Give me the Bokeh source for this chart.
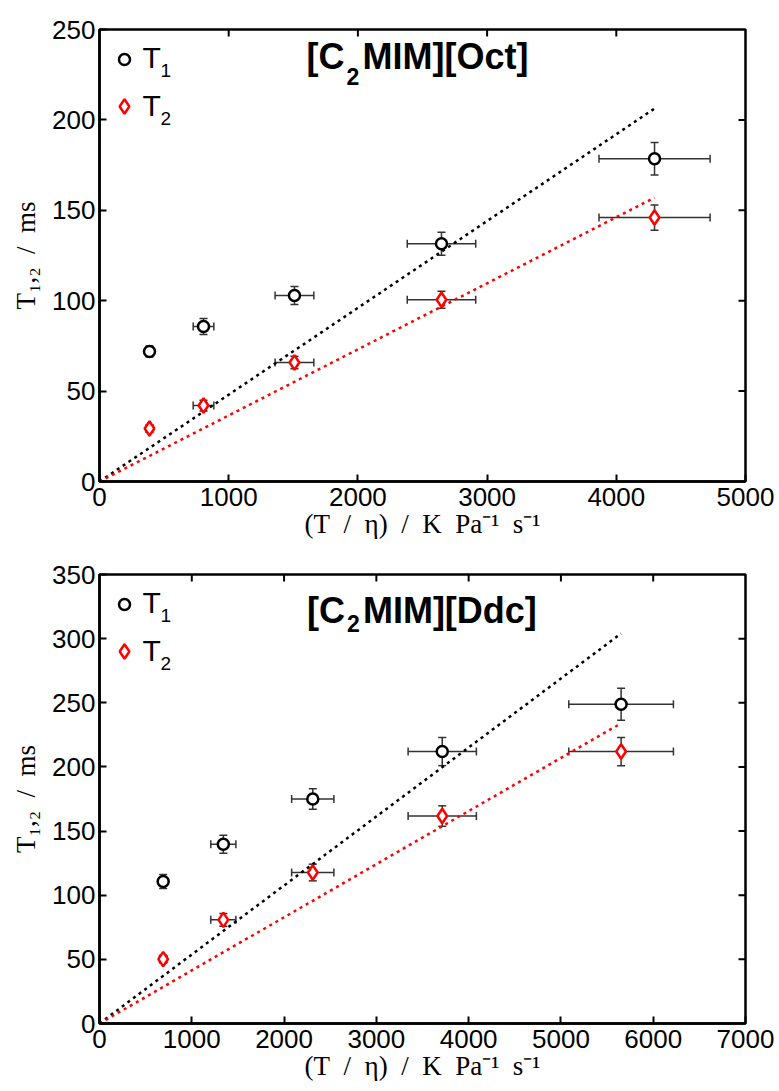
from bokeh.plotting import figure
from bokeh.models import (Range1d, Whisker, TeeHead, ColumnDataSource,
                          Label, SingleIntervalTicker)
from bokeh.layouts import column
from bokeh.embed import file_html
from bokeh.resources import INLINE

# ---------------- data: panel c) [C2MIM][Oct] ----------------
oct_x = [387, 805, 1509, 2647, 4296]
oct_x_err = [25, 80, 150, 265, 430]
oct_t1 = [71.9, 85.7, 102.9, 131.5, 178.5]
oct_t1_err = [3, 4.4, 5, 6.4, 9]
oct_t2 = [29.3, 42.0, 65.8, 100.5, 146.0]
oct_t2_err = [2, 3, 3.5, 4.7, 7]
oct_fit_x = [0, 4296]
oct_fit_t1 = [0, 206.3]
oct_fit_t2 = [0, 157.0]
oct_x_ticks = [0, 1000, 2000, 3000, 4000, 5000]
oct_y_ticks = [0, 50, 100, 150, 200, 250]

# ---------------- data: panel d) [C2MIM][Ddc] ----------------
ddc_x = [690, 1342, 2311, 3714, 5652]
ddc_x_err = [40, 136, 229, 370, 567]
ddc_t1 = [110.7, 139.7, 175.0, 212.0, 248.8]
ddc_t1_err = [5.5, 7, 8, 11, 12.5]
ddc_t2 = [50.2, 80.8, 117.7, 161.7, 212.0]
ddc_t2_err = [3, 5, 6.5, 8, 11]
ddc_fit_x = [0, 5652]
ddc_fit_t1 = [0, 304.0]
ddc_fit_t2 = [0, 234.0]
ddc_x_ticks = [0, 1000, 2000, 3000, 4000, 5000, 6000, 7000]
ddc_y_ticks = [0, 50, 100, 150, 200, 250, 300, 350]

EN = "\u2002"
X_LABEL = f"(T{EN}/{EN}η){EN}/{EN}K{EN}Pa⁻¹{EN}s⁻¹"
Y_LABEL = f"T₁,₂{EN}/{EN}ms"
SANS = "Liberation Sans"
SERIF = "Liberation Serif"
ERR_COLOR = "#333333"
TICK_LEN = 7


def style_axis(ax, ticks):
    ax.ticker = SingleIntervalTicker(interval=ticks[1] - ticks[0], num_minor_ticks=0)
    ax.major_tick_in = TICK_LEN
    ax.major_tick_out = 0
    ax.minor_tick_line_color = None
    ax.major_tick_line_width = 2
    ax.major_tick_line_color = "black"
    ax.axis_line_width = 2.5
    ax.axis_line_color = "black"
    ax.major_label_text_font = SANS
    ax.major_label_text_color = "black"
    ax.major_label_text_font_size = "26px"
    ax.axis_label_text_font = SERIF
    ax.axis_label_text_font_style = "normal"
    ax.axis_label_text_font_size = "27px"
    ax.axis_label_text_color = "black"


def panel(tag, tail, x, xe, t1, t1e, t2, t2e, fx, f1, f2, xticks, yticks,
          height, mb_top, mb_bottom, fw, fh, title_base, sub_drop):
    xmax, ymax = xticks[-1], yticks[-1]
    p = figure(width=779, height=height, x_range=Range1d(0, xmax), y_range=Range1d(0, ymax),
               output_backend="svg", toolbar_location=None,
               min_border_left=99, min_border_right=34,
               min_border_top=mb_top, min_border_bottom=mb_bottom)
    p.xgrid.visible = False
    p.ygrid.visible = False
    p.outline_line_color = "black"
    p.outline_line_width = 2.5
    p.background_fill_color = "white"
    p.border_fill_color = "white"

    style_axis(p.xaxis[0], xticks)
    style_axis(p.yaxis[0], yticks)
    p.xaxis[0].major_label_standoff = 6
    p.yaxis[0].major_label_standoff = 4
    p.xaxis[0].axis_label = X_LABEL
    p.yaxis[0].axis_label = Y_LABEL
    p.xaxis[0].axis_label_standoff = 0
    p.yaxis[0].axis_label_standoff = 8

    # inward ticks on the top and right edges of the box
    p.segment(x0=xticks[1:-1], y0=[ymax] * (len(xticks) - 2),
              x1=xticks[1:-1], y1=[ymax * (1 - TICK_LEN / fh)] * (len(xticks) - 2),
              line_color="black", line_width=2)
    p.segment(x0=[xmax] * (len(yticks) - 2), y0=yticks[1:-1],
              x1=[xmax * (1 - TICK_LEN / fw)] * (len(yticks) - 2), y1=yticks[1:-1],
              line_color="black", line_width=2)

    def d(px, py):
        return xmax * px / fw, ymax * (1 - py / fh)

    src = ColumnDataSource(dict(
        x=x,
        xl=[a - b for a, b in zip(x, xe)], xu=[a + b for a, b in zip(x, xe)],
        t1=t1, t1l=[a - b for a, b in zip(t1, t1e)], t1u=[a + b for a, b in zip(t1, t1e)],
        t2=t2, t2l=[a - b for a, b in zip(t2, t2e)], t2u=[a + b for a, b in zip(t2, t2e)],
    ))

    def head():
        return TeeHead(size=8, line_color=ERR_COLOR, line_width=1.5)

    for yc in ("t1", "t2"):
        p.add_layout(Whisker(source=src, base="x", lower=yc + "l", upper=yc + "u",
                             dimension="height", line_color=ERR_COLOR, line_width=1.5,
                             lower_head=head(), upper_head=head()))
        p.add_layout(Whisker(source=src, base=yc, lower="xl", upper="xu",
                             dimension="width", line_color=ERR_COLOR, line_width=1.5,
                             lower_head=head(), upper_head=head()))

    p.line(fx, f1, line_color="black", line_width=2.5, line_dash="3 4")
    p.line(fx, f2, line_color="red", line_width=2.5, line_dash="3 4")

    p.scatter("x", "t1", source=src, marker="circle", size=11, line_color="black",
              line_width=2.5, fill_color="white")
    p.scatter("x", "t2", source=src, marker="diamond", size=14.5, line_color="red",
              line_width=2.5, fill_color="white")

    # legend (manual, to reproduce the big subscripts)
    lx, ly = d(25, 30)
    p.scatter([lx], [ly], marker="circle", size=11, line_color="black", line_width=2.5,
              fill_color="white")
    lx, ly = d(25, 77)
    p.scatter([lx], [ly], marker="diamond", size=14.5, line_color="red", line_width=2.5,
              fill_color="white")

    def lab(txt, px, py, size, style="normal", align="left"):
        xx, yy = d(px, py)
        p.add_layout(Label(x=xx, y=yy, text=txt, text_font=SANS, text_font_size=size,
                           text_font_style=style, text_align=align,
                           text_baseline="alphabetic", text_color="black"))

    lab("T", 43, 28, "30px")
    lab("1", 61, 41, "19px")
    lab("T", 43, 76, "30px")
    lab("2", 61, 89, "19px")

    # title
    lab("[C", 245, title_base, "36px", "bold", "right")
    lab("2", 247, title_base + sub_drop, "23px", "bold")
    lab(tail, 263, title_base, "36px", "bold")

    # panel tag
    lab(tag, -84, 9, "27px", "bold")
    return p


p1 = panel("c)", "MIM][Oct]", oct_x, oct_x_err, oct_t1, oct_t1_err, oct_t2, oct_t2_err,
           oct_fit_x, oct_fit_t1, oct_fit_t2, oct_x_ticks, oct_y_ticks,
           height=546, mb_top=29, mb_bottom=65, fw=646, fh=452, title_base=27, sub_drop=20)
p2 = panel("d)", "MIM][Ddc]", ddc_x, ddc_x_err, ddc_t1, ddc_t1_err, ddc_t2, ddc_t2_err,
           ddc_fit_x, ddc_fit_t1, ddc_fit_t2, ddc_x_ticks, ddc_y_ticks,
           height=545, mb_top=28, mb_bottom=68, fw=645, fh=449, title_base=36, sub_drop=13)

layout = column(p1, p2, spacing=0)
open("out.html", "w").write(file_html(layout, INLINE))
